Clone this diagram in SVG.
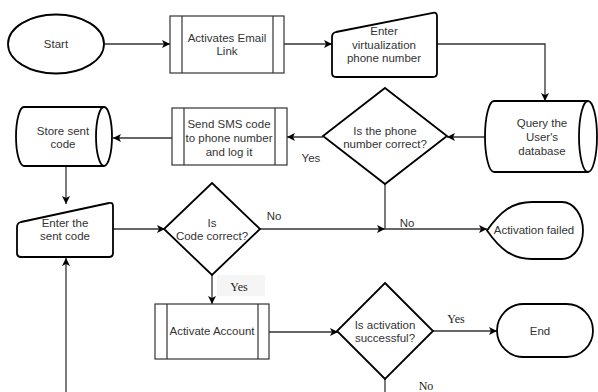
<svg xmlns="http://www.w3.org/2000/svg" width="598" height="392" viewBox="0 0 598 392">
  <defs>
    <marker id="arrow" viewBox="0 0 10 10" refX="10" refY="5" markerWidth="8" markerHeight="8" markerUnits="userSpaceOnUse" orient="auto">
      <path d="M0,0 L10,5 L0,10 L2.5,5 Z" fill="#000"/>
    </marker>
    <style>
      .shape { fill: #fff; stroke: #000; stroke-width: 1.8; }
      .proc { fill: #fff; stroke: #333; stroke-width: 1.2; }
      .conn { fill: none; stroke: #333; stroke-width: 1.3; }
      .lbl { font-family: "Liberation Sans", Arial, sans-serif; font-size: 11.5px; fill: #333; text-anchor: middle; dominant-baseline: central; }
      .serif { font-family: "Liberation Serif", "Times New Roman", serif; font-size: 12px; fill: #222; text-anchor: middle; dominant-baseline: central; }
    </style>
  </defs>

  <!-- connectors -->
  <g id="connectors">
    <path class="conn" d="M104,44 L170,44" marker-end="url(#arrow)"/>
    <path class="conn" d="M284,44 L332,44" marker-end="url(#arrow)"/>
    <path class="conn" d="M437,44 L545,44 L545,101" marker-end="url(#arrow)"/>
    <path class="conn" d="M485,137 L447,137" marker-end="url(#arrow)"/>
    <path class="conn" d="M323,137 L287,137" marker-end="url(#arrow)"/>
    <path class="conn" d="M172,138 L113,138" marker-end="url(#arrow)"/>
    <path class="conn" d="M66,166 L66,204" marker-end="url(#arrow)"/>
    <path class="conn" d="M113,229 L165,229" marker-end="url(#arrow)"/>
    <path class="conn" d="M260,229 L385,229" marker-end="url(#arrow)"/>
    <path class="conn" d="M385,184 L385,229"/>
    <path class="conn" d="M385,229 L487,229" marker-end="url(#arrow)"/>
    <path class="conn" d="M212,275 L212,304" marker-end="url(#arrow)"/>
    <path class="conn" d="M269,332 L338,332" marker-end="url(#arrow)"/>
    <path class="conn" d="M433,331 L497,331" marker-end="url(#arrow)"/>
    <path class="conn" d="M385,378 L385,392"/>
    <path class="conn" d="M66,392 L66,258" marker-end="url(#arrow)"/>

    <!-- connector labels -->
    <text class="lbl" x="311" y="158">Yes</text>
    <text class="lbl" x="274" y="216">No</text>
    <text class="lbl" x="407" y="223">No</text>
    <rect x="217" y="275" width="48" height="21" fill="#f5f5f5"/>
    <text class="serif" x="239" y="287">Yes</text>
    <text class="serif" x="456" y="319">Yes</text>
    <text class="serif" x="426" y="386">No</text>
  </g>

  <g id="start">
    <ellipse class="shape" cx="56" cy="44" rx="48" ry="29.5"/>
    <text class="lbl" x="56" y="44">Start</text>
  </g>

  <g id="activate-link">
    <rect class="proc" x="170" y="16" width="114" height="57"/>
    <path class="proc" d="M182,16 L182,73 M273,16 L273,73"/>
    <text class="lbl" x="227" y="38">Activates Email</text>
    <text class="lbl" x="227" y="51">Link</text>
  </g>

  <g id="enter-phone">
    <path class="shape" d="M332,37 Q332,33 336,32 L433,12.8 Q437,12 437,16 L437,73 Q437,77 433,77 L336,77 Q332,77 332,73 Z"/>
    <text class="lbl" x="384" y="31">Enter</text>
    <text class="lbl" x="384" y="44.5">virtualization</text>
    <text class="lbl" x="384" y="58">phone number</text>
  </g>

  <g id="query-db">
    <path class="shape" d="M494,101 L588,101 A9,35.5 0 0 1 588,172 L494,172 A9,35.5 0 0 1 494,101 Z"/>
    <path class="shape" fill="none" d="M588,101 A9,35.5 0 0 0 588,172"/>
    <text class="lbl" x="542" y="123">Query the</text>
    <text class="lbl" x="542" y="137">User's</text>
    <text class="lbl" x="542" y="151">database</text>
  </g>

  <g id="phone-check">
    <path class="shape" d="M385,88 L447,136 L385,184 L323,136 Z"/>
    <text class="lbl" x="385" y="131">Is the phone</text>
    <text class="lbl" x="385" y="144">number correct?</text>
  </g>

  <g id="send-sms">
    <rect class="proc" x="172" y="108" width="115" height="57"/>
    <path class="proc" d="M184,108 L184,165 M275,108 L275,165"/>
    <text class="lbl" x="229" y="124">Send SMS code</text>
    <text class="lbl" x="229" y="138">to phone number</text>
    <text class="lbl" x="229" y="152">and log it</text>
  </g>

  <g id="store-code">
    <path class="shape" d="M24,107 L104,107 A8,29.5 0 0 1 104,166 L24,166 A8,29.5 0 0 1 24,107 Z"/>
    <path class="shape" fill="none" d="M104,107 A8,29.5 0 0 0 104,166"/>
    <text class="lbl" x="63" y="131">Store sent</text>
    <text class="lbl" x="63" y="144">code</text>
  </g>

  <g id="enter-code">
    <path class="shape" d="M17,227 Q17,223 21,222 L109,203 Q113,202 113,206 L113,253 Q113,257 109,257 L21,257 Q17,257 17,253 Z"/>
    <text class="lbl" x="65" y="223">Enter the</text>
    <text class="lbl" x="65" y="236">sent code</text>
  </g>

  <g id="code-check">
    <path class="shape" d="M212,183 L260,229 L212,275 L164,229 Z"/>
    <text class="lbl" x="212" y="223">Is</text>
    <text class="lbl" x="212" y="236">Code correct?</text>
  </g>

  <g id="activation-failed">
    <path class="shape" d="M487,230.5 C500,212 512,202 532,202 L562,202 A21,28.5 0 0 1 562,259 L532,259 C512,259 500,249 487,230.5 Z"/>
    <text class="lbl" x="534" y="230">Activation failed</text>
  </g>

  <g id="activate-account">
    <rect class="proc" x="155" y="304" width="114" height="55"/>
    <path class="proc" d="M167,304 L167,359 M258,304 L258,359"/>
    <text class="lbl" x="212" y="331">Activate Account</text>
  </g>

  <g id="activation-check">
    <path class="shape" d="M385,283 L433,331 L385,379 L337,331 Z"/>
    <text class="lbl" x="385" y="325">Is activation</text>
    <text class="lbl" x="385" y="338">successful?</text>
  </g>

  <g id="end">
    <rect class="shape" x="497" y="304" width="96" height="53" rx="26.5" ry="26.5"/>
    <text class="lbl" x="540" y="331">End</text>
  </g>
</svg>
